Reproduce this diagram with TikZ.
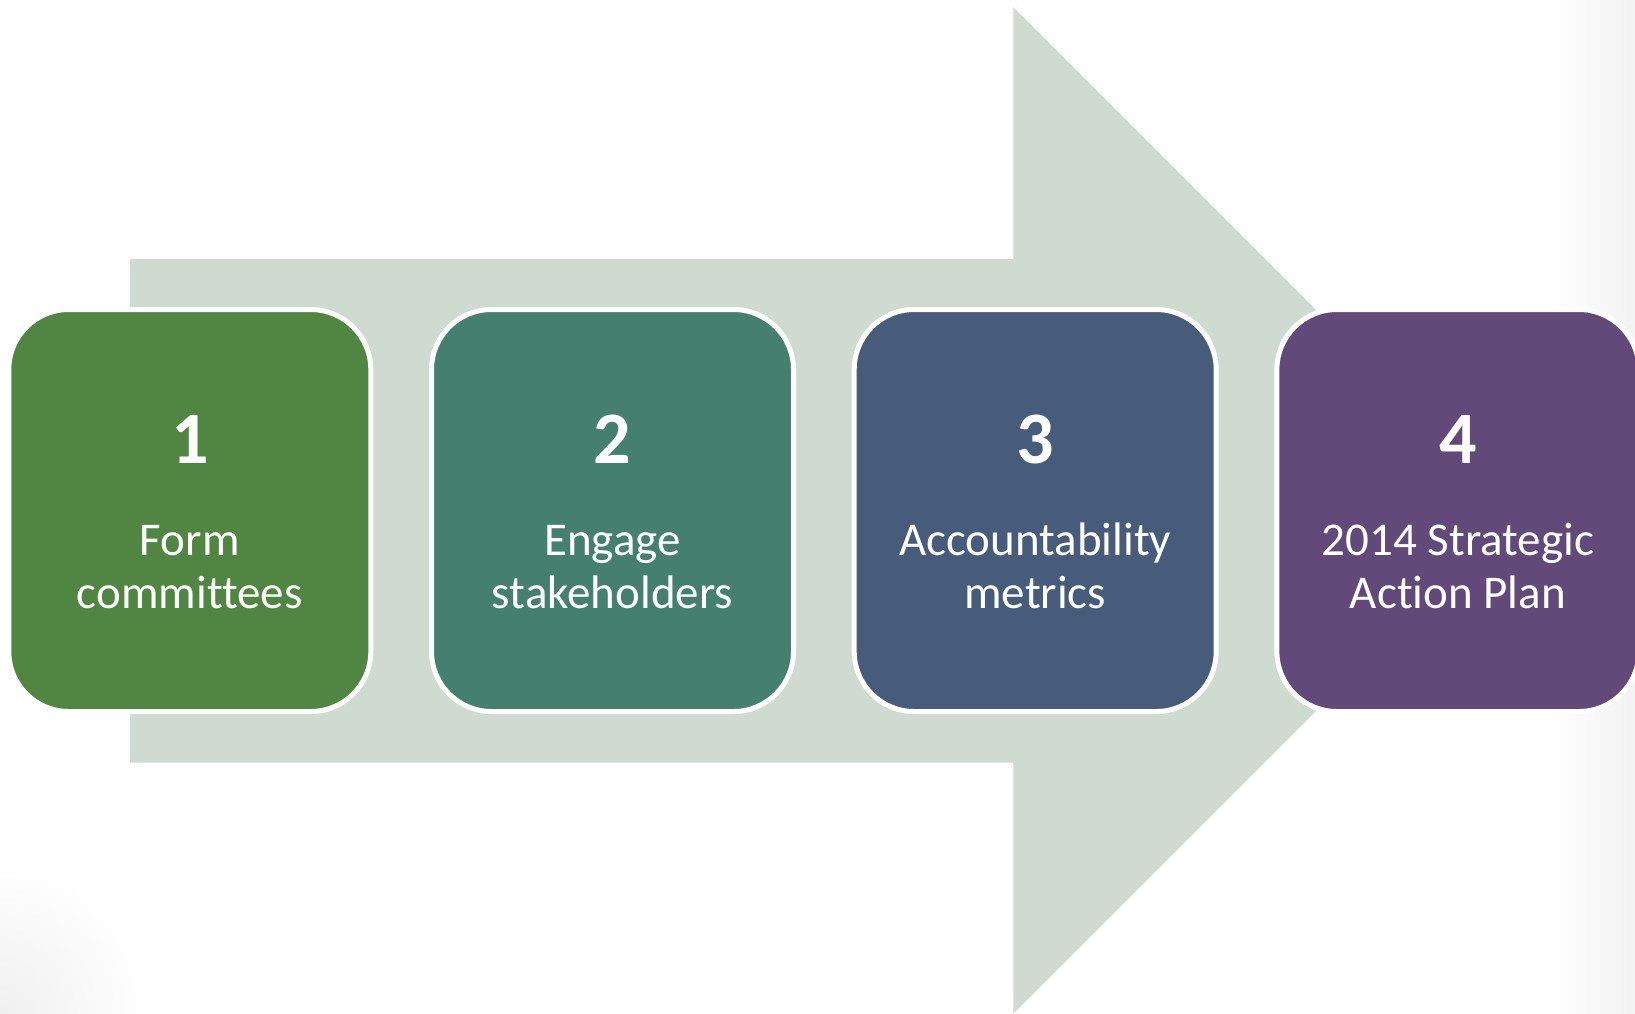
\documentclass[tikz,border=0pt]{standalone}
\usepackage{fontspec}
\setmainfont{Carlito}[Ligatures=NoCommon]
\definecolor{arrowc}{HTML}{CFDAD1}
\definecolor{cone}{HTML}{508642}
\definecolor{ctwo}{HTML}{45806F}
\definecolor{cthree}{HTML}{475B7B}
\definecolor{cfour}{HTML}{61497A}
\tikzset{
  stepbox/.style={rectangle, rounded corners=60pt, draw=white, line width=5pt,
    minimum width=362pt, minimum height=402pt, inner sep=0pt, outer sep=0pt},
  numtxt/.style={anchor=base, text=white, inner sep=0pt,
    font=\fontsize{74}{80}\selectfont\bfseries},
  labtxt/.style={anchor=base, text=white, inner sep=0pt,
    font=\fontsize{47}{53}\selectfont}
}
\begin{document}
\begin{tikzpicture}[x=1pt,y=-1pt]
\useasboundingbox (0,0) rectangle (1635,1013);
\begin{scope}
\clip (0,0) rectangle (1635,1013);
\fill[white] (0,0) rectangle (1635,1013);
\shade[left color=white, right color=black!5] (1550,0) rectangle (1635,1013);
\shade[inner color=black!6, outer color=white] (0,1013) circle (150);
% big arrow
\fill[arrowc] (130,259) -- (1013.3,259) -- (1013.3,7.3) -- (1516.5,510.5)
  -- (1013.3,1013.7) -- (1013.3,762.7) -- (130,762.7) -- cycle;
% boxes
\node[stepbox, fill=cone]   (b1) at (189.8,510.5) {};
\node[stepbox, fill=ctwo]   (b2) at (612.5,510.5) {};
\node[stepbox, fill=cthree] (b3) at (1035.2,510.5) {};
\node[stepbox, fill=cfour]  (b4) at (1457.9,510.5) {};
% texts
\node[numtxt] (n1) at (189.8,463) {1};
\node[labtxt] (l1a) at (189.8,555) {Form};
\node[labtxt] (l1b) at (189.8,608) {committees};
\node[numtxt] (n2) at (612.5,463) {2};
\node[labtxt] (l2a) at (612.5,555) {Engage};
\node[labtxt] (l2b) at (612.5,608) {stakeholders};
\node[numtxt] (n3) at (1035.2,463) {3};
\node[labtxt] (l3a) at (1035.2,555) {Accountability};
\node[labtxt] (l3b) at (1035.2,608) {metrics};
\node[numtxt] (n4) at (1457.9,463) {4};
\node[labtxt] (l4a) at (1457.9,555) {2014 Strategic};
\node[labtxt] (l4b) at (1457.9,608) {Action Plan};
\end{scope}
\end{tikzpicture}
\end{document}
